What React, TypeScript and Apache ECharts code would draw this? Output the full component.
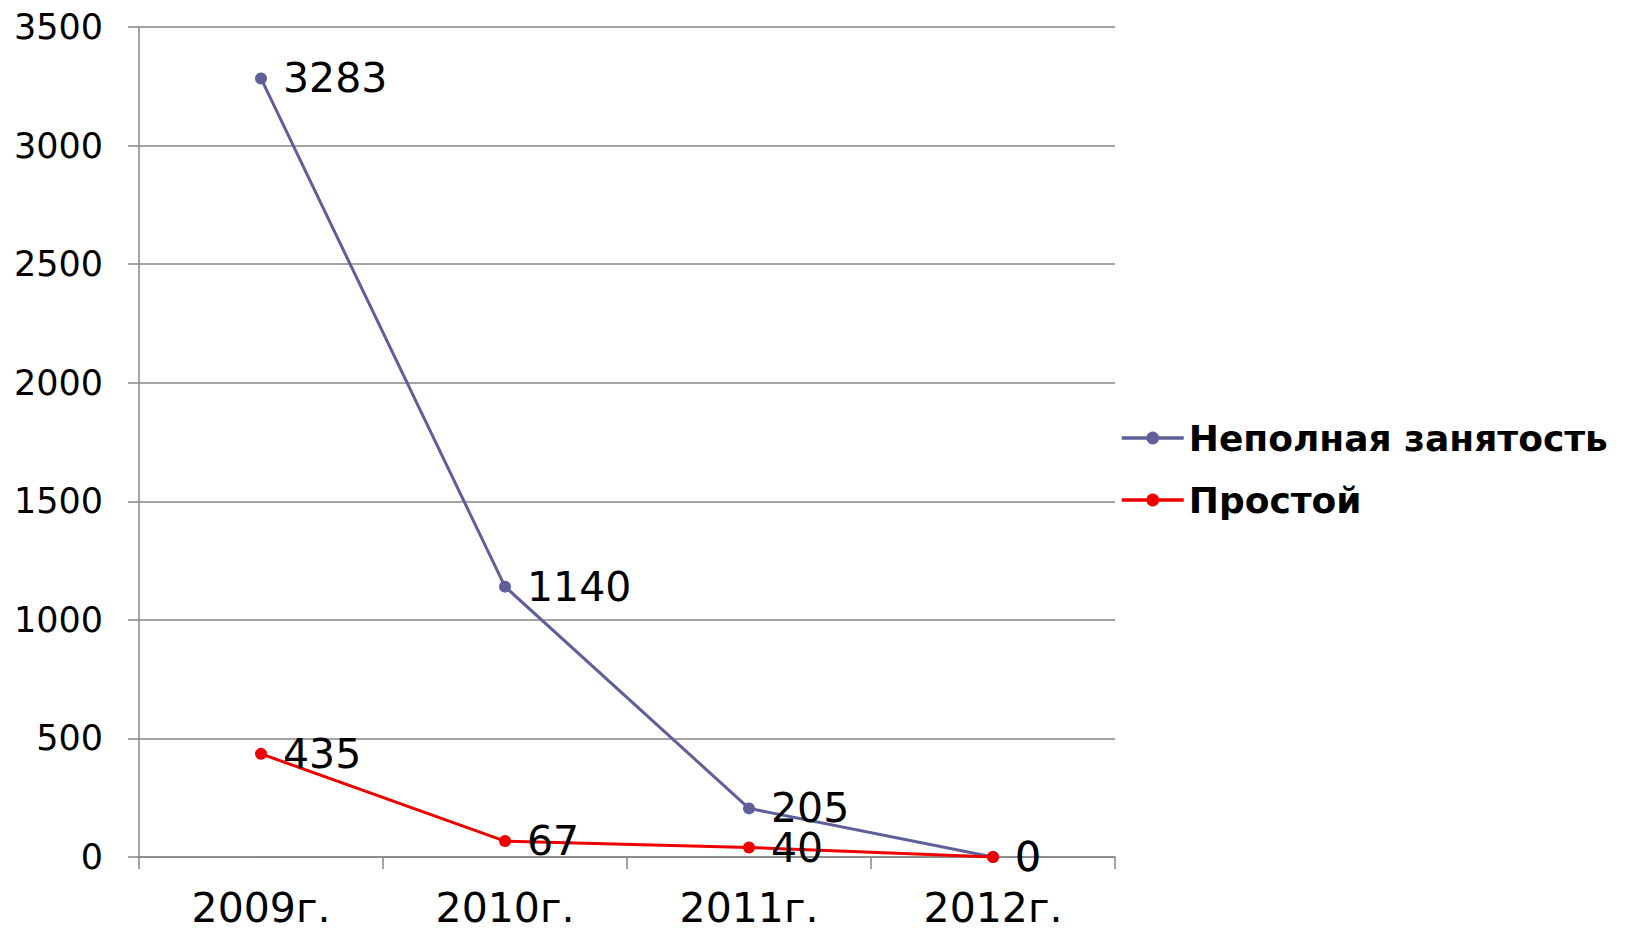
import React, { useEffect, useRef } from "react";
import * as echarts from "echarts";

const categories = ["2009г.", "2010г.", "2011г.", "2012г."];
const underemployment = [3283, 1140, 205, 0];
const downtime = [435, 67, 40, 0];
const seriesNames = ["Неполная занятость", "Простой"];
const yMin = 0;
const yMax = 3500;
const yInterval = 500;

const FONT = "'DejaVu Sans', Verdana, sans-serif";
const GRID_COLOR = "#868686";
const BLUE = "#5F5F99";
const RED = "#EE0000";

export default function App() {
  const ref = useRef<HTMLDivElement>(null);
  useEffect(() => {
    if (!ref.current) return;
    const chart = echarts.init(ref.current, undefined, { renderer: "svg" });
    const labelStyle = {
      show: true,
      position: "right" as const,
      distance: 16,
      fontSize: 41,
      fontFamily: FONT,
      color: "#000",
    };
    chart.setOption({
      animation: false,
      backgroundColor: "#fff",
      textStyle: { fontFamily: FONT },
      grid: { left: 139, right: 515, top: 27, bottom: 73, containLabel: false },
      legend: {
        orient: "vertical",
        left: 1120,
        top: 418,
        padding: 0,
        itemWidth: 62,
        itemHeight: 16,
        itemGap: 22,
        lineStyle: { width: 3.5 },
        textStyle: {
          fontSize: 36,
          fontWeight: "bold",
          fontFamily: FONT,
          color: "#000",
          lineHeight: 40,
        },
        data: seriesNames,
      },
      xAxis: {
        type: "category",
        data: categories,
        boundaryGap: true,
        axisLine: { show: true, lineStyle: { color: GRID_COLOR, width: 1.5 } },
        axisTick: { show: true, length: 12, interval: 0, lineStyle: { color: GRID_COLOR, width: 1.5 } },
        axisLabel: { fontSize: 41, fontFamily: FONT, color: "#000", margin: 30, interval: 0 },
        splitLine: { show: false },
      },
      yAxis: {
        type: "value",
        min: yMin,
        max: yMax,
        interval: yInterval,
        axisLine: { show: true, lineStyle: { color: GRID_COLOR, width: 1.5 } },
        axisTick: { show: true, length: 11, lineStyle: { color: GRID_COLOR, width: 1.5 } },
        axisLabel: {
          fontSize: 35,
          fontFamily: FONT,
          color: "#000",
          margin: 36,
          formatter: (v: number) => String(v),
        },
        splitLine: { show: true, lineStyle: { color: GRID_COLOR, width: 1.5 } },
      },
      series: [
        {
          name: seriesNames[0],
          type: "line",
          data: underemployment,
          symbol: "circle",
          symbolSize: 12,
          lineStyle: { color: BLUE, width: 3 },
          itemStyle: { color: BLUE },
          label: labelStyle,
        },
        {
          name: seriesNames[1],
          type: "line",
          data: downtime,
          symbol: "circle",
          symbolSize: 12,
          lineStyle: { color: RED, width: 3 },
          itemStyle: { color: RED },
          label: labelStyle,
        },
      ],
    });
    return () => chart.dispose();
  }, []);
  return (
    <div
      ref={ref}
      style={{ position: "fixed", left: 0, top: 0, width: 1630, height: 930, background: "#fff" }}
    />
  );
}
